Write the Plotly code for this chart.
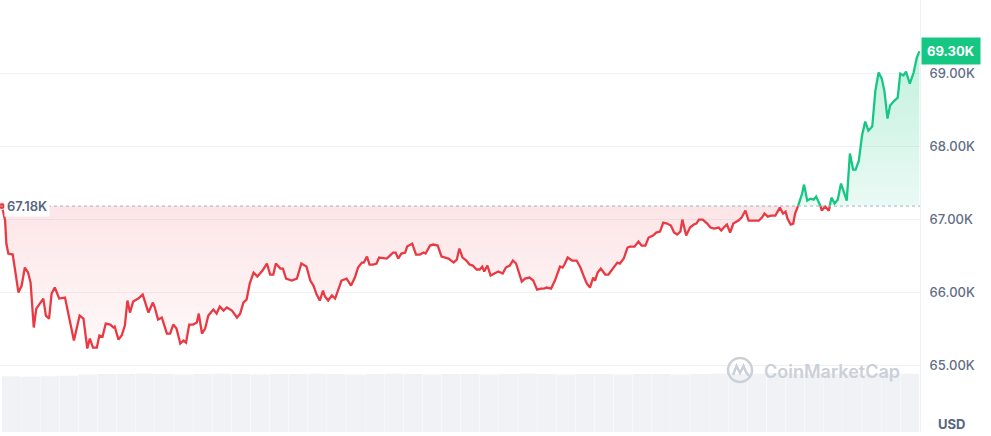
import plotly.graph_objects as go

# ---- data (minutes from start of the 24h window, price in USD) ----
minutes = [0, 5, 7, 10, 17, 26, 31, 36, 41, 45, 50, 54, 65, 69, 74, 78, 83, 90, 99, 113,
           122, 128, 134, 138, 143, 149, 153, 158, 163, 170, 175, 177, 183, 188, 193, 197, 201, 206, 214, 221,
           230, 237, 240, 245, 251, 259, 264, 269, 274, 280, 285, 289, 294, 300, 306, 309, 314, 319, 324, 332,
           337, 342, 348, 353, 361, 369, 374, 379, 384, 389, 395, 401, 409, 416, 421, 426, 430, 437, 441, 446,
           455, 463, 470, 478, 484, 489, 494, 499, 504, 507, 512, 518, 523, 528, 533, 541, 548, 554, 559, 565,
           568, 573, 577, 583, 588, 592, 599, 604, 609, 614, 618, 622, 627, 633, 636, 644, 650, 656, 662, 665,
           672, 677, 684, 690, 696, 701, 709, 714, 718, 723, 729, 734, 739, 745, 750, 754, 757, 762, 767, 774,
           779, 786, 791, 797, 802, 807, 812, 816, 821, 828, 834, 840, 846, 851, 855, 862, 868, 876, 880, 883,
           888, 895, 902, 908, 914, 918, 923, 928, 931, 935, 940, 947, 952, 959, 966, 970, 976, 982, 986, 993,
           999, 1004, 1010, 1015, 1022, 1027, 1033, 1038, 1044, 1050, 1055, 1060, 1065, 1068, 1074, 1080, 1086, 1090, 1094, 1100,
           1107, 1112, 1118, 1125, 1129, 1133, 1138, 1143, 1148, 1156, 1161, 1167, 1172, 1180, 1188, 1193, 1197, 1202, 1207, 1214,
           1221, 1226, 1230, 1233, 1238, 1242, 1245, 1250, 1256, 1259, 1264, 1269, 1274, 1278, 1283, 1287, 1292, 1298, 1302, 1307,
           1312, 1317, 1321, 1326, 1331, 1336, 1340, 1345, 1350, 1355, 1360, 1366, 1371, 1376, 1381, 1385, 1390, 1394, 1401, 1406,
           1410, 1415, 1419, 1425, 1431, 1436, 1440]

prices = [67180, 66982, 66667, 66530, 66516, 65995, 66091, 66338, 66269, 66132, 65516, 65776, 65913, 65680, 65639, 65982, 66064, 65913, 65927, 65338,
          65680, 65639, 65228, 65365, 65242, 65242, 65406, 65392, 65571, 65557, 65516, 65529, 65351, 65406, 65543, 65886, 65721, 65872, 65913, 65968,
          65721, 65858, 65790, 65625, 65653, 65434, 65434, 65557, 65502, 65297, 65338, 65310, 65557, 65557, 65584, 65707, 65434, 65502, 65680, 65762,
          65707, 65803, 65748, 65790, 65748, 65653, 65707, 65858, 65899, 66119, 66269, 66214, 66296, 66393, 66242, 66242, 66393, 66324, 66324, 66187,
          66160, 66187, 66393, 66352, 66160, 66091, 65968, 65886, 66023, 65941, 65886, 65954, 65913, 66050, 66160, 66187, 66091, 66201, 66338, 66406,
          66406, 66488, 66379, 66379, 66393, 66475, 66461, 66461, 66502, 66543, 66543, 66461, 66530, 66543, 66625, 66666, 66516, 66516, 66543, 66530,
          66639, 66653, 66639, 66488, 66475, 66461, 66406, 66447, 66598, 66475, 66434, 66379, 66365, 66311, 66311, 66351, 66283, 66365, 66228, 66255,
          66283, 66255, 66338, 66365, 66434, 66393, 66255, 66146, 66187, 66201, 66160, 66036, 66050, 66050, 66064, 66050, 66160, 66352, 66338, 66379,
          66475, 66434, 66434, 66338, 66201, 66119, 66064, 66201, 66160, 66269, 66324, 66242, 66242, 66324, 66406, 66393, 66461, 66612, 66625, 66625,
          66694, 66639, 66639, 66749, 66776, 66817, 66831, 66954, 66941, 66913, 66817, 66790, 66831, 66995, 66776, 66886, 66927, 66941, 66995, 66995,
          66941, 66886, 66872, 66886, 66845, 66886, 66927, 66817, 66941, 66982, 67023, 67119, 66982, 66982, 66982, 67023, 67078, 67036, 67050, 67050,
          67159, 67077, 67104, 67008, 66926, 66940, 67077, 67190, 67351, 67474, 67255, 67282, 67269, 67310, 67228, 67118, 67173, 67118, 67296, 67214,
          67269, 67488, 67392, 67255, 67899, 67680, 67680, 67803, 68146, 68337, 68214, 68269, 68762, 69009, 68926, 68762, 68378, 68557, 68625, 68666,
          68995, 68968, 69022, 68858, 69009, 69214, 69300]

open_price = 67180
last_price = 69300

volume_minutes = list(range(15, 1440, 30))
volume = [1.29, 1.28, 1.29, 1.30, 1.33, 1.34, 1.34, 1.35, 1.34, 1.33, 1.34, 1.35, 1.34, 1.33, 1.34, 1.34,
          1.35, 1.34, 1.33, 1.34, 1.35, 1.34, 1.33, 1.34, 1.34, 1.33, 1.34, 1.35, 1.34, 1.33, 1.34, 1.34,
          1.33, 1.34, 1.34, 1.33, 1.34, 1.35, 1.34, 1.35, 1.36, 1.35, 1.34, 1.35, 1.35, 1.34, 1.35, 1.35]

tick_vals = [65000, 66000, 67000, 68000, 69000, 70000]
tick_text = ["65.00K", "66.00K", "67.00K", "68.00K", "69.00K", ""]

RED = "#ea3943"
GREEN = "#16c784"
FONT = "Inter"

# ---- split the series at the open price ----
pts = []
for i in range(len(minutes)):
    if i > 0:
        a = prices[i - 1] - open_price
        b = prices[i] - open_price
        if a * b < 0:
            f = a / (a - b)
            pts.append((minutes[i - 1] + f * (minutes[i] - minutes[i - 1]), open_price))
    pts.append((minutes[i], prices[i]))

runs = {"r": ([], []), "g": ([], [])}
prev = None
for p, q in zip(pts, pts[1:]):
    side = "g" if (p[1] + q[1]) / 2 > open_price else "r"
    xs, ys = runs[side]
    if side != prev:
        if xs:
            xs.append(None)
            ys.append(None)
        xs.append(p[0])
        ys.append(p[1])
    xs.append(q[0])
    ys.append(q[1])
    prev = side

px = [p[0] for p in pts]
red_fill = [min(p[1], open_price) for p in pts]
green_fill = [max(p[1], open_price) for p in pts]
base_line = [open_price for _ in pts]

fig = go.Figure()

fig.add_trace(go.Bar(x=volume_minutes, y=volume, yaxis="y2", marker=dict(color="#f0f2f6", line=dict(width=0)),
                     hoverinfo="skip", showlegend=False))

fig.add_trace(go.Scatter(x=px, y=base_line, mode="lines", line=dict(width=0), hoverinfo="skip", showlegend=False))
fig.add_trace(go.Scatter(x=px, y=red_fill, mode="lines", line=dict(width=0), fill="tonexty",
                         fillgradient=dict(type="vertical", start=65200, stop=open_price,
                                           colorscale=[[0, "rgba(234,57,67,0.03)"], [1, "rgba(234,57,67,0.13)"]]),
                         hoverinfo="skip", showlegend=False))
fig.add_trace(go.Scatter(x=px, y=base_line, mode="lines", line=dict(width=0), hoverinfo="skip", showlegend=False))
fig.add_trace(go.Scatter(x=px, y=green_fill, mode="lines", line=dict(width=0), fill="tonexty",
                         fillgradient=dict(type="vertical", start=open_price, stop=last_price,
                                           colorscale=[[0, "rgba(22,199,132,0.09)"], [1, "rgba(22,199,132,0.26)"]]),
                         hoverinfo="skip", showlegend=False))

fig.add_trace(go.Scatter(x=runs["r"][0], y=runs["r"][1], mode="lines", line=dict(color=RED, width=2.3),
                         connectgaps=False, showlegend=False))
fig.add_trace(go.Scatter(x=runs["g"][0], y=runs["g"][1], mode="lines", line=dict(color=GREEN, width=2.3),
                         connectgaps=False, showlegend=False))
fig.add_trace(go.Scatter(x=[minutes[0]], y=[prices[0]], mode="markers",
                         marker=dict(color=RED, size=7, line=dict(color="white", width=1)), showlegend=False))

fig.add_shape(type="line", xref="paper", yref="y", x0=0, x1=1, y0=open_price, y1=open_price,
              line=dict(color="#a7b1c2", width=1, dash="dot"), layer="above")

# watermark logo
fig.add_shape(type="circle", xref="paper", yref="paper", xsizemode="pixel", ysizemode="pixel",
              xanchor=740 / 920, yanchor=1 - 370 / 432, x0=-12, x1=12, y0=-12, y1=12,
              line=dict(color="#cbd0d8", width=2.5))
fig.add_shape(type="path", xref="paper", yref="paper", xsizemode="pixel", ysizemode="pixel",
              xanchor=740 / 920, yanchor=1 - 370 / 432,
              path="M -7,-5 L -3.5,4 L 0,-3 L 3.5,4 L 6,-2 L 9,-6",
              line=dict(color="#cbd0d8", width=2.5))

fig.add_annotation(text="CoinMarketCap", xref="paper", yref="paper", x=762 / 920, y=1 - 371 / 432,
                   xanchor="left", yanchor="middle", showarrow=False,
                   font=dict(family=FONT, size=18, color="#cbd0d8", weight=600))

fig.add_annotation(text="67.18K", xref="paper", yref="y", x=4 / 920, y=open_price,
                   xanchor="left", yanchor="middle", showarrow=False, bgcolor="white", borderpad=2,
                   font=dict(family=FONT, size=13, color="#58667e", weight=600))

fig.add_annotation(text="69.30K", xref="paper", yref="y", x=1 + 1 / 920, y=last_price,
                   xanchor="left", yanchor="middle", showarrow=False, bgcolor=GREEN, borderpad=5,
                   font=dict(family=FONT, size=13, color="white", weight=700))

fig.add_annotation(text="USD", xref="paper", yref="paper", x=951 / 920, y=1 - 424 / 432,
                   xanchor="center", yanchor="middle", showarrow=False,
                   font=dict(family=FONT, size=13, color="#58667e", weight=700))

fig.update_layout(
    width=991, height=436,
    margin=dict(l=0, r=71, t=0, b=4),
    paper_bgcolor="white", plot_bgcolor="white",
    bargap=0.02,
    xaxis=dict(range=[-3, 1441], showgrid=False, zeroline=False, showticklabels=False, showline=False,
               fixedrange=True),
    yaxis=dict(range=[64085, 70003], side="right", tickvals=tick_vals, ticktext=tick_text,
               showgrid=True, gridcolor="#eff2f5", gridwidth=1, zeroline=False,
               showline=True, linecolor="#eff2f5", linewidth=1, ticks="", ticklabelstandoff=6,
               tickfont=dict(family=FONT, size=13, color="#616e85", weight=500)),
    yaxis2=dict(range=[0, 10], overlaying="y", visible=False),
    showlegend=False,
)

fig.write_html("out.html", config={"displayModeBar": False},
               post_script="document.body.style.margin='0';document.body.style.padding='0';")
